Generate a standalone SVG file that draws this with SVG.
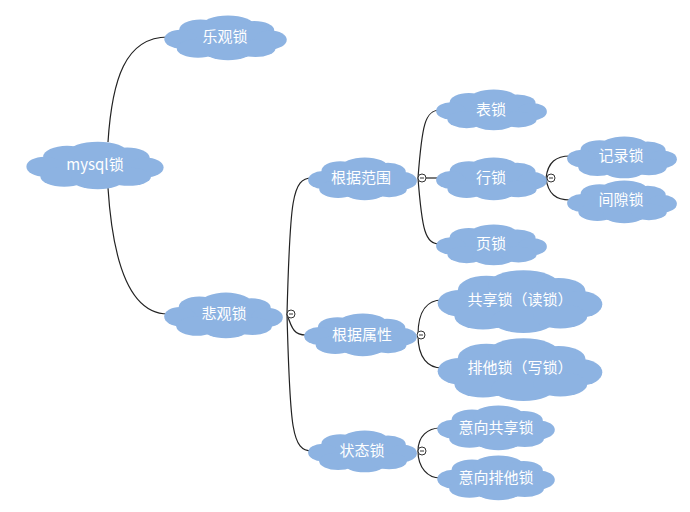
<svg xmlns="http://www.w3.org/2000/svg" xmlns:xlink="http://www.w3.org/1999/xlink" width="690" height="512" viewBox="0 0 690 512">
<style>
.c{fill:#8DB3E2}
.t{font-family:"Noto Sans CJK SC","Noto Sans",sans-serif;font-size:15px;fill:#ffffff;text-anchor:middle}
.l{fill:none;stroke:#222;stroke-width:1.2}
.k{fill:#fff;stroke:#333;stroke-width:1}
.m{stroke:#333;stroke-width:1}
</style>
<defs>
<symbol id="cloud" viewBox="0 0 100 60" preserveAspectRatio="none">
<g class="c">
<ellipse cx="50" cy="31" rx="42" ry="21"/>
<ellipse cx="30" cy="20" rx="17" ry="13"/>
<ellipse cx="52" cy="15" rx="21" ry="13"/>
<ellipse cx="73" cy="21" rx="16" ry="12"/>
<ellipse cx="14" cy="32" rx="13" ry="12"/>
<ellipse cx="86" cy="33" rx="13" ry="12"/>
<ellipse cx="28" cy="44" rx="17" ry="12"/>
<ellipse cx="52" cy="47" rx="19" ry="12"/>
<ellipse cx="74" cy="44" rx="16" ry="11"/>
</g>
</symbol>
</defs>
<rect width="690" height="512" fill="#ffffff"/>
<g id="connectors">
<path class="l" d="M108,142 C112,80 125,37 168,37"/>
<path class="l" d="M108,188 C112,250 125,314 168,314"/>
<path class="l" d="M287,314 C290,200 292,178 312,178"/>
<path class="l" d="M287,314 C292,330 295,335 306,335"/>
<path class="l" d="M287,314 C290,430 292,451 312,451"/>
<path class="l" d="M418,178 C422,125 425,110 440,110"/>
<path class="l" d="M418,178 L440,178"/>
<path class="l" d="M418,178 C422,230 425,244 440,244"/>
<path class="l" d="M546,178 C548,162 556,156 570,156"/>
<path class="l" d="M546,178 C548,194 556,200 570,200"/>
<path class="l" d="M418,335 C418,310 428,300 442,300"/>
<path class="l" d="M418,335 C418,358 428,368 442,368"/>
<path class="l" d="M418,451 C418,436 428,428 440,428"/>
<path class="l" d="M418,451 C418,468 428,478 440,478"/>
<circle class="k" cx="291" cy="314" r="4"/><line class="m" x1="289" y1="314" x2="293" y2="314"/>
<circle class="k" cx="422" cy="178" r="4"/><line class="m" x1="420" y1="178" x2="424" y2="178"/>
<circle class="k" cx="421" cy="335" r="4"/><line class="m" x1="419" y1="335" x2="423" y2="335"/>
<circle class="k" cx="422" cy="451" r="4"/><line class="m" x1="420" y1="451" x2="424" y2="451"/>
<circle class="k" cx="551" cy="178" r="4"/><line class="m" x1="549" y1="178" x2="553" y2="178"/>
</g>
<g id="n-mysql"><use xlink:href="#cloud" x="25" y="140" width="140" height="50"/><text class="t" x="95" y="170">mysql锁</text></g>
<g id="n-optimistic"><use xlink:href="#cloud" x="163" y="14" width="125" height="47"/><text class="t" x="225" y="42">乐观锁</text></g>
<g id="n-pessimistic"><use xlink:href="#cloud" x="163" y="291" width="121" height="48"/><text class="t" x="224" y="319">悲观锁</text></g>
<g id="n-range"><use xlink:href="#cloud" x="307" y="156" width="111" height="45"/><text class="t" x="361" y="183">根据范围</text></g>
<g id="n-attr"><use xlink:href="#cloud" x="303" y="312" width="115" height="45"/><text class="t" x="362" y="340">根据属性</text></g>
<g id="n-state"><use xlink:href="#cloud" x="307" y="429" width="111" height="44"/><text class="t" x="362" y="456">状态锁</text></g>
<g id="n-table"><use xlink:href="#cloud" x="435" y="88" width="113" height="43"/><text class="t" x="491" y="115">表锁</text></g>
<g id="n-row"><use xlink:href="#cloud" x="435" y="156" width="113" height="45"/><text class="t" x="491" y="183">行锁</text></g>
<g id="n-page"><use xlink:href="#cloud" x="435" y="223" width="113" height="43"/><text class="t" x="491" y="249">页锁</text></g>
<g id="n-record"><use xlink:href="#cloud" x="566" y="135" width="112" height="44"/><text class="t" x="621" y="161">记录锁</text></g>
<g id="n-gap"><use xlink:href="#cloud" x="566" y="179" width="112" height="45"/><text class="t" x="621" y="205">间隙锁</text></g>
<g id="n-shared"><use xlink:href="#cloud" x="436" y="268" width="168" height="66"/><text class="t" x="520" y="305">共享锁（读锁）</text></g>
<g id="n-exclusive"><use xlink:href="#cloud" x="436" y="336" width="168" height="66"/><text class="t" x="520" y="373">排他锁（写锁）</text></g>
<g id="n-is"><use xlink:href="#cloud" x="436" y="404" width="120" height="47"/><text class="t" x="496" y="433">意向共享锁</text></g>
<g id="n-ix"><use xlink:href="#cloud" x="436" y="454" width="120" height="47"/><text class="t" x="496" y="483">意向排他锁</text></g>
</svg>
